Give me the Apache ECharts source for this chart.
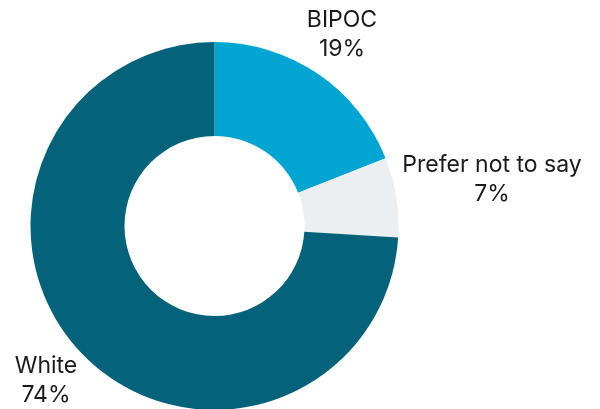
<!DOCTYPE html>
<html>
<head>
<meta charset="utf-8">
<style>
  html, body { margin: 0; padding: 0; background: #ffffff; }
  #chart { width: 600px; height: 409px; }
</style>
<script src="https://cdn.jsdelivr.net/npm/echarts@6/dist/echarts.min.js"></script>
</head>
<body>
<div id="chart"></div>
<script>
// Share of respondents by identity group
const categories = ['BIPOC', 'Prefer not to say', 'White'];
const shares = [19, 7, 74];
const colors = ['#00a5d1', '#eceff2', '#04627a'];

// Label anchor points (centre of each two-line label)
const labelAnchors = [[342, 35], [492, 180], [46, 381]];

const chart = echarts.init(document.getElementById('chart'), null, { renderer: 'canvas' });

chart.setOption({
  animation: false,
  series: [{
    type: 'pie',
    center: [214.5, 226],
    radius: [90, 184],
    startAngle: 90,
    clockwise: true,
    avoidLabelOverlap: false,
    label: {
      show: true,
      position: 'outside',
      formatter: p => p.name + '\n' + p.value + '%',
      fontFamily: 'Inter',
      fontSize: 23,
      lineHeight: 29,
      color: '#1a1a1a',
      align: 'center'
    },
    labelLine: { show: false },
    labelLayout: p => ({
      x: labelAnchors[p.dataIndex][0],
      y: labelAnchors[p.dataIndex][1],
      align: 'center',
      verticalAlign: 'middle'
    }),
    itemStyle: { borderWidth: 0 },
    emphasis: { disabled: true },
    data: categories.map((name, i) => ({
      name,
      value: shares[i],
      itemStyle: { color: colors[i] }
    }))
  }]
});
</script>
</body>
</html>
